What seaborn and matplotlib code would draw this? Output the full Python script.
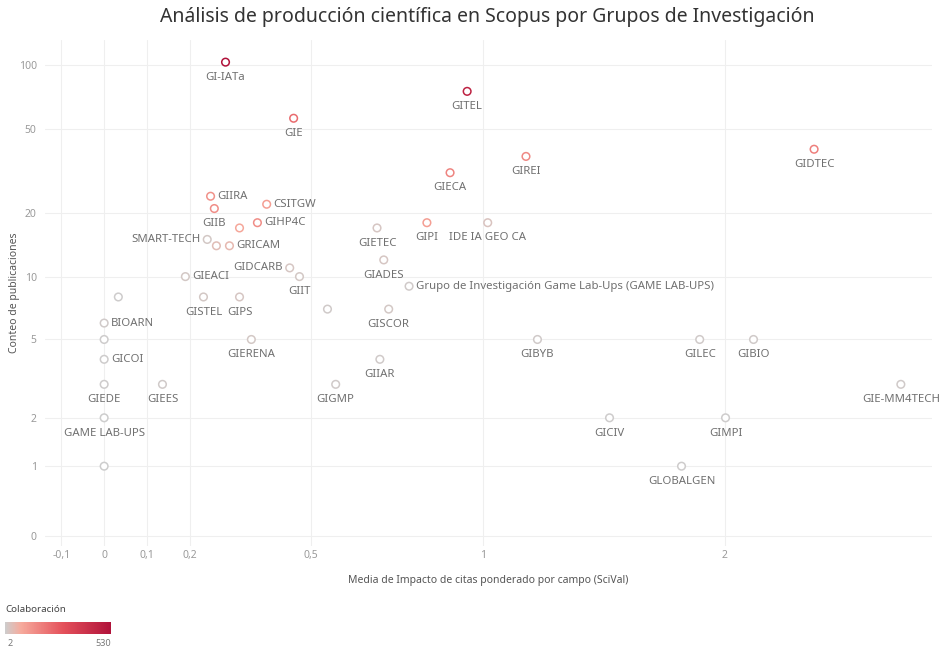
import numpy as np
import pandas as pd
import matplotlib
matplotlib.use("Agg")
import matplotlib.pyplot as plt
from matplotlib.colors import LinearSegmentedColormap, Normalize
from matplotlib.cm import ScalarMappable
from matplotlib.ticker import FixedLocator, FuncFormatter
import seaborn as sns

# Research groups: field-weighted citation impact (SciVal), publication count, collaboration
grupos = [
    "GI-IATa", "GIE", "GITEL", "GIREI", "GIECA", "GIDTEC", "GIIRA", "GIIB", "CSITGW",
    "GIHP4C", "", "GIPI", "IDE IA GEO CA", "GIETEC", "SMART-TECH", "", "GRICAM",
    "GIDCARB", "GIIT", "GIEACI", "GIADES",
    "Grupo de Investigación Game Lab-Ups (GAME LAB-UPS)", "", "GISCOR", "", "GISTEL",
    "GIPS", "BIOARN", "", "GICOI", "GIEDE", "GIEES", "GAME LAB-UPS", "", "GIERENA",
    "GIGMP", "GIIAR", "GIBYB", "GILEC", "GIBIO", "GIE-MM4TECH", "GICIV", "GIMPI",
    "GLOBALGEN",
]
impacto = [
    0.286, 0.455, 0.948, 1.146, 0.894, 2.51, 0.250, 0.259, 0.387,
    0.364, 0.320, 0.823, 1.015, 0.678, 0.242, 0.264, 0.2955,
    0.445, 0.470, 0.190, 0.697,
    0.770, 0.543, 0.711, 0.033, 0.233,
    0.320, 0.0, 0.0, 0.0, 0.0, 0.136, 0.0, 0.0, 0.349,
    0.5648, 0.686, 1.187, 1.872, 2.153, 3.11, 1.465, 2.003,
    1.784,
]
publicaciones = [
    103, 56, 75, 37, 31, 40, 24, 21, 22,
    18, 17, 18, 18, 17, 15, 14, 14,
    11, 10, 10, 12,
    9, 7, 7, 8, 8,
    8, 6, 5, 4, 3, 3, 2, 1, 5,
    3, 4, 5, 5, 5, 3, 2, 2,
    1,
]
colaboracion = [
    530, 230, 470, 160, 170, 180, 140, 150, 110,
    150, 90, 110, 25, 20, 15, 40, 50,
    20, 15, 15, 20,
    10, 10, 15, 5, 15,
    20, 10, 5, 5, 5, 10, 2, 2, 15,
    10, 10, 10, 10, 10, 10, 5, 5,
    5,
]

x_ticks = [-0.1, 0, 0.1, 0.2, 0.5, 1, 2]
y_ticks = [0, 1, 2, 5, 10, 20, 50, 100]
colab_min, colab_max = 2, 530

# Label placement around each marker
lado = {
    "GIIRA": "right", "CSITGW": "right", "GIHP4C": "right", "GRICAM": "right",
    "BIOARN": "right", "GICOI": "right", "GIEACI": "right",
    "Grupo de Investigación Game Lab-Ups (GAME LAB-UPS)": "right",
    "SMART-TECH": "left", "GIDCARB": "left",
}

df = pd.DataFrame({
    "Grupo": grupos,
    "Impacto": impacto,
    "Publicaciones": publicaciones,
    "Colaboración": colaboracion,
})

sns.set_theme(style="white")
plt.rcParams["font.family"] = ["Noto Sans", "DejaVu Sans"]

cmap = LinearSegmentedColormap.from_list(
    "colab", [(0.0, "#cdcdcd"), (0.15, "#f6aa9c"), (0.55, "#e4505a"), (1.0, "#b0123a")]
)
norm = Normalize(colab_min, colab_max)

fig = plt.figure(figsize=(9.41, 6.52), dpi=100)
ax = fig.add_axes([45 / 941, 1 - 546 / 652, 887 / 941, 506 / 652])

sns.scatterplot(
    data=df, x="Impacto", y="Publicaciones", hue="Colaboración",
    palette=cmap, hue_norm=norm, s=30, legend=False, ax=ax, zorder=3,
)
# hollow circles: stroke carries the collaboration colour
coll = ax.collections[0]
cols = coll.get_facecolors()
coll.set_edgecolors(cols)
coll.set_facecolors("white")
coll.set_linewidths(1.1)

# symmetric log-like axes
ax.set_xscale("function", functions=(np.arcsinh, np.sinh))
ax.set_yscale("function", functions=(lambda v: np.arcsinh(v / 1.2), lambda v: 1.2 * np.sinh(v)))
ax.set_xlim(-0.138, 3.355)
ax.set_ylim(-0.13, 131)

fmt = FuncFormatter(lambda v, p: ("%g" % v).replace(".", ","))
ax.xaxis.set_major_locator(FixedLocator(x_ticks))
ax.yaxis.set_major_locator(FixedLocator(y_ticks))
ax.xaxis.set_major_formatter(fmt)
ax.yaxis.set_major_formatter(fmt)
ax.xaxis.set_minor_locator(FixedLocator([]))
ax.yaxis.set_minor_locator(FixedLocator([]))
ax.tick_params(axis="both", length=0, labelsize=7.5, labelcolor="#9a9a9a")
ax.tick_params(axis="y", pad=6)
ax.tick_params(axis="x", pad=3)
ax.grid(True, color="#efefef", linewidth=0.8, zorder=0)
for sp in ax.spines.values():
    sp.set_visible(False)

ax.set_xlabel("Media de Impacto de citas ponderado por campo (SciVal)",
              fontsize=7.5, color="#555555", labelpad=10)
ax.set_ylabel("Conteo de publicaciones", fontsize=7.5, color="#555555")
ax.yaxis.set_label_coords(-25 / 887, 0.5)

for _, r in df.iterrows():
    if not r["Grupo"]:
        continue
    pos = lado.get(r["Grupo"], "below")
    if pos == "right":
        off, ha, va = (5, 0), "left", "center"
    elif pos == "left":
        off, ha, va = (-5, 0), "right", "center"
    else:
        off, ha, va = (0, -7), "center", "top"
    ax.annotate(r["Grupo"], (r["Impacto"], r["Publicaciones"]), xytext=off,
                textcoords="offset points", ha=ha, va=va, fontsize=8.2,
                color="#707070", zorder=4)

fig.text(487 / 941, 1 - 17 / 652,
         "Análisis de producción científica en Scopus por Grupos de Investigación",
         ha="center", va="center", fontsize=14, color="#333333")

# colour legend
fig.text(5 / 941, 1 - 609 / 652, "Colaboración", ha="left", va="center",
         fontsize=7, color="#444444", fontweight="bold")
cax = fig.add_axes([5 / 941, 1 - 634 / 652, 106 / 941, 12 / 652])
cb = fig.colorbar(ScalarMappable(norm=norm, cmap=cmap), cax=cax, orientation="horizontal")
cb.outline.set_visible(False)
cb.set_ticks([])
fig.text(8 / 941, 1 - 644 / 652, str(colab_min), ha="left", va="center",
         fontsize=6.5, color="#777777")
fig.text(111 / 941, 1 - 644 / 652, str(colab_max), ha="right", va="center",
         fontsize=6.5, color="#777777")

fig.savefig("out.png", dpi=100)
